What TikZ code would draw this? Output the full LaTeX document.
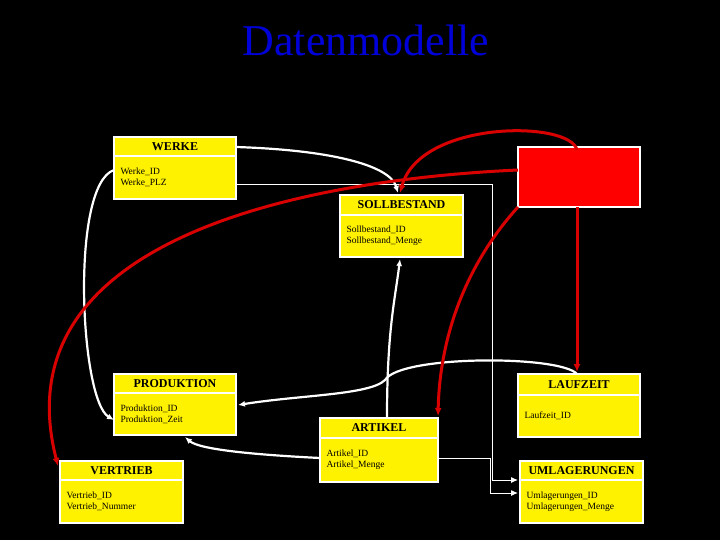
\documentclass[tikz,border=0pt]{standalone}
\usepackage{fontspec}
\setmainfont{Liberation Serif}
\usetikzlibrary{arrows.meta}
\begin{document}
\begin{tikzpicture}[x=1pt,y=-1pt,
  wl/.style={draw=white,line width=2.2pt,-{Latex[length=7pt,width=6pt]}},
  tl/.style={draw=white,line width=1pt,-{Latex[length=7pt,width=6pt]}},
  rl/.style={draw=red!85!black,line width=3pt,-{Latex[length=8pt,width=7pt]}},
  hd/.style={font=\bfseries\fontsize{12}{12}\selectfont,anchor=center},
  bd/.style={font=\fontsize{9.5}{11}\selectfont,anchor=west,align=left}]
\fill[black] (0,0) rectangle (720,540);
\useasboundingbox (0,0) rectangle (720,540);
\node[text=blue!85!black,font=\fontsize{44}{44}\selectfont] (title) at (366,40) {Datenmodelle};
\newcommand{\ebox}[8]{% name x1 y1 x2 y2 ysep title body
  \fill[yellow,draw=white,line width=2pt] (#2,#3) rectangle (#4,#5);
  \draw[white,line width=2pt] (#2,#6) -- (#4,#6);
  \coordinate (#1-nw) at (#2,#3);
  \node[hd] (#1-t) at ({(#2+#4)/2},{(#3+#6)/2}) {#7};
  \node[bd] (#1-b) at (#2+3,{(#6+#5)/2}) {#8};}
\ebox{werke}{114}{137}{236}{199}{156}{WERKE}{Werke\_ID\\Werke\_PLZ}
\ebox{soll}{340}{195}{463}{257}{215}{SOLLBESTAND}{Sollbestand\_ID\\Sollbestand\_Menge}
\ebox{prod}{114}{374}{236}{435}{393}{PRODUKTION}{Produktion\_ID\\Produktion\_Zeit}
\ebox{lauf}{518}{374}{640}{437}{395}{LAUFZEIT}{Laufzeit\_ID}
\ebox{art}{320}{418}{438}{482}{438}{ARTIKEL}{Artikel\_ID\\Artikel\_Menge}
\ebox{vert}{60}{461}{183}{523}{480}{VERTRIEB}{Vertrieb\_ID\\Vertrieb\_Nummer}
\ebox{uml}{520}{461}{643}{523}{480}{UMLAGERUNGEN}{Umlagerungen\_ID\\Umlagerungen\_Menge}
\fill[red,draw=white,line width=2pt] (518,147) rectangle (640,207);
\node[minimum width=120pt,minimum height=58pt,inner sep=0] (rb) at (579,177) {};
% white connectors
\draw[wl] (236,147) .. controls (330,150) and (390,165) .. (398,193);
\draw[tl] (236,185) -- (492,185) -- (492,480) -- (518,480);
\draw[tl] (438,458) -- (490,458) -- (490,493) -- (518,493);
\draw[wl] (114,170) .. controls (70,185) and (80,400) .. (114,420);
\draw[wl] (387,418) .. controls (387,330) and (395,300) .. (400,259);
\draw[wl] (577,374) .. controls (560,355) and (400,355) .. (385,380) .. controls (370,395) and (300,395) .. (238,405);
\draw[wl] (320,458) .. controls (260,455) and (200,450) .. (185,437);
% red connectors
\draw[rl] (577,150) .. controls (570,120) and (420,120) .. (400,193);
\draw[rl] (518,170) .. controls (300,180) and (0,240) .. (58,466);
\draw[rl] (518,207) .. controls (470,260) and (440,330) .. (438,416);
\draw[rl] (577,207) -- (577,372);
\end{tikzpicture}
\end{document}
